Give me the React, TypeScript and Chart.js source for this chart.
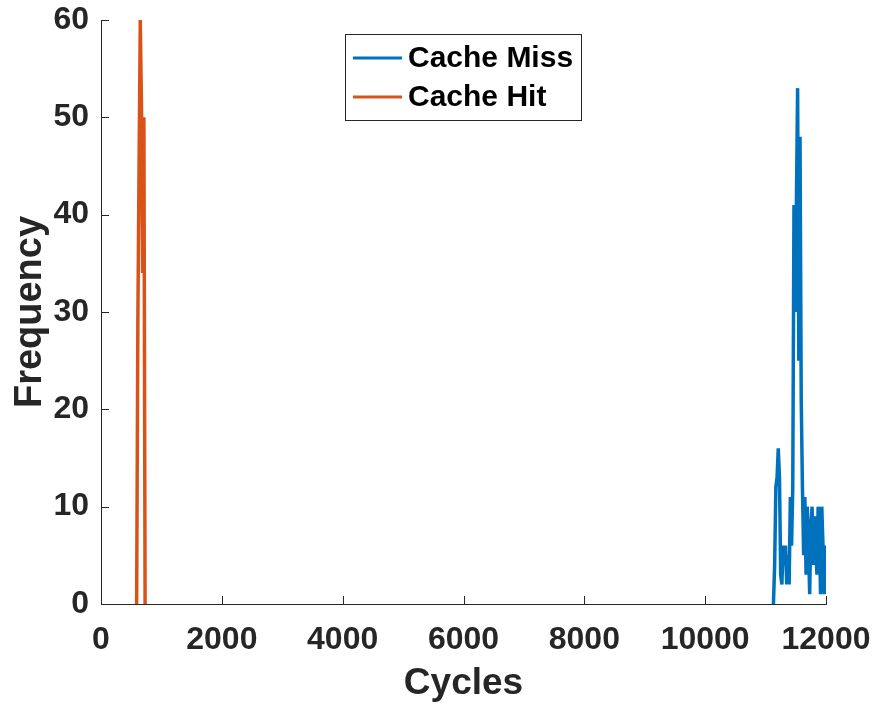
import React, { useEffect, useRef } from "react";
import { Chart, registerables } from "chart.js";

Chart.register(...registerables);

// Cache Miss histogram (cycles, frequency)
const missCycles = [
  11130, 11150, 11170, 11190, 11210, 11230, 11250, 11270, 11290, 11310,
  11330, 11350, 11370, 11390, 11410, 11430, 11450, 11470, 11490, 11510,
  11530, 11550, 11570, 11590, 11610, 11630, 11650, 11670, 11690, 11710,
  11730, 11750, 11770, 11790, 11810, 11830, 11850, 11870, 11890, 11910,
  11930, 11950, 11970, 11990, 12000,
];
const missFreq = [
  0, 4, 12, 13, 16, 13, 3, 2, 6, 4,
  6, 2, 5, 2, 11, 6, 12, 41, 30, 41,
  53, 25, 48, 21, 12, 5, 11, 3, 10, 6,
  1, 8, 10, 4, 9, 6, 3, 10, 7, 1,
  10, 6, 1, 6, 1,
];

// Cache Hit histogram
const hitCycles = [590, 610, 630, 650, 670, 690, 710, 730];
const hitFreq = [0, 29, 45, 60, 51, 34, 50, 0];

const xTicks = [0, 2000, 4000, 6000, 8000, 10000, 12000];
const yTicks = [0, 10, 20, 30, 40, 50, 60];
const seriesNames = ["Cache Miss", "Cache Hit"];
const seriesColors = ["#0072BD", "#D95319"];

const FONT = "'Liberation Sans', Arial, Helvetica, sans-serif";
const AXIS = "#262626";

const inwardTicks = {
  id: "inwardTicks",
  afterDatasetsDraw(chart: any) {
    const { ctx, chartArea, scales } = chart;
    ctx.save();
    ctx.strokeStyle = AXIS;
    ctx.lineWidth = 1;
    ctx.beginPath();
    xTicks.forEach((v) => {
      const px = Math.round(scales.x.getPixelForValue(v)) + 0.5;
      ctx.moveTo(px, chartArea.bottom);
      ctx.lineTo(px, chartArea.bottom - 8);
    });
    yTicks.forEach((v) => {
      const py = Math.round(scales.y.getPixelForValue(v)) + 0.5;
      ctx.moveTo(chartArea.left, py);
      ctx.lineTo(chartArea.left + 8, py);
    });
    ctx.stroke();
    ctx.restore();
  },
};

const legendBox = {
  id: "legendBox",
  afterDraw(chart: any) {
    const { ctx } = chart;
    const x0 = 345.5, y0 = 34.5, w = 236, h = 86;
    ctx.save();
    ctx.fillStyle = "#ffffff";
    ctx.fillRect(x0, y0, w, h);
    ctx.strokeStyle = "#262626";
    ctx.lineWidth = 1;
    ctx.strokeRect(x0, y0, w, h);
    const rows = [58, 97];
    ctx.font = `bold 30px ${FONT}`;
    ctx.textBaseline = "middle";
    ctx.textAlign = "left";
    seriesNames.forEach((name, i) => {
      ctx.strokeStyle = seriesColors[i];
      ctx.lineWidth = 3;
      ctx.beginPath();
      ctx.moveTo(353, rows[i]);
      ctx.lineTo(402, rows[i]);
      ctx.stroke();
      ctx.fillStyle = "#000000";
      ctx.fillText(name, 408, rows[i] + 1);
    });
    ctx.restore();
  },
};

export default function App() {
  const ref = useRef<HTMLCanvasElement | null>(null);

  useEffect(() => {
    if (!ref.current) return;
    const chart = new Chart(ref.current, {
      type: "line",
      data: {
        datasets: [
          {
            label: seriesNames[0],
            data: missCycles.map((c, i) => ({ x: c, y: missFreq[i] })),
            borderColor: seriesColors[0],
            backgroundColor: seriesColors[0],
            borderWidth: 3.5,
            pointRadius: 0,
            tension: 0,
          },
          {
            label: seriesNames[1],
            data: hitCycles.map((c, i) => ({ x: c, y: hitFreq[i] })),
            borderColor: seriesColors[1],
            backgroundColor: seriesColors[1],
            borderWidth: 3.5,
            pointRadius: 0,
            tension: 0,
          },
        ],
      },
      options: {
        animation: false,
        responsive: false,
        maintainAspectRatio: false,
        layout: { padding: { top: 20, right: 46, left: 0, bottom: 0 } },
        plugins: {
          legend: { display: false },
          tooltip: { enabled: false },
        },
        scales: {
          x: {
            type: "linear",
            min: 0,
            max: 12000,
            afterFit: (s: any) => {
              s.height = 102;
              s.paddingLeft = 0;
              s.paddingRight = 0;
            },
            afterBuildTicks: (s: any) => {
              s.ticks = xTicks.map((v) => ({ value: v }));
            },
            grid: { display: false, drawTicks: false },
            border: { display: true, color: AXIS, width: 1 },
            ticks: {
              padding: 17,
              maxRotation: 0,
              autoSkip: false,
              color: AXIS,
              font: { family: FONT, size: 32, weight: "bold" },
              callback: (v: any) => String(v),
            },
            title: {
              display: true,
              text: "Cycles",
              color: AXIS,
              padding: 0,
              font: { family: FONT, size: 37, weight: "bold" },
            },
          },
          y: {
            min: 0,
            max: 60,
            afterFit: (s: any) => {
              s.width = 101;
              s.paddingTop = 0;
              s.paddingBottom = 0;
            },
            afterBuildTicks: (s: any) => {
              s.ticks = yTicks.map((v) => ({ value: v }));
            },
            grid: { display: false, drawTicks: false },
            border: { display: true, color: AXIS, width: 1 },
            ticks: {
              padding: 12,
              autoSkip: false,
              color: AXIS,
              font: { family: FONT, size: 32, weight: "bold" },
            },
            title: {
              display: true,
              text: "Frequency",
              color: AXIS,
              padding: { top: 8, bottom: 0 },
              font: { family: FONT, size: 38, weight: "bold" },
            },
          },
        },
      } as any,
      plugins: [inwardTicks, legendBox],
    });
    return () => chart.destroy();
  }, []);

  return (
    <div style={{ position: "fixed", left: 0, top: 0, width: 872, height: 706, background: "#fff" }}>
      <canvas ref={ref} width={872} height={706} style={{ display: "block", width: 872, height: 706 }} />
    </div>
  );
}
